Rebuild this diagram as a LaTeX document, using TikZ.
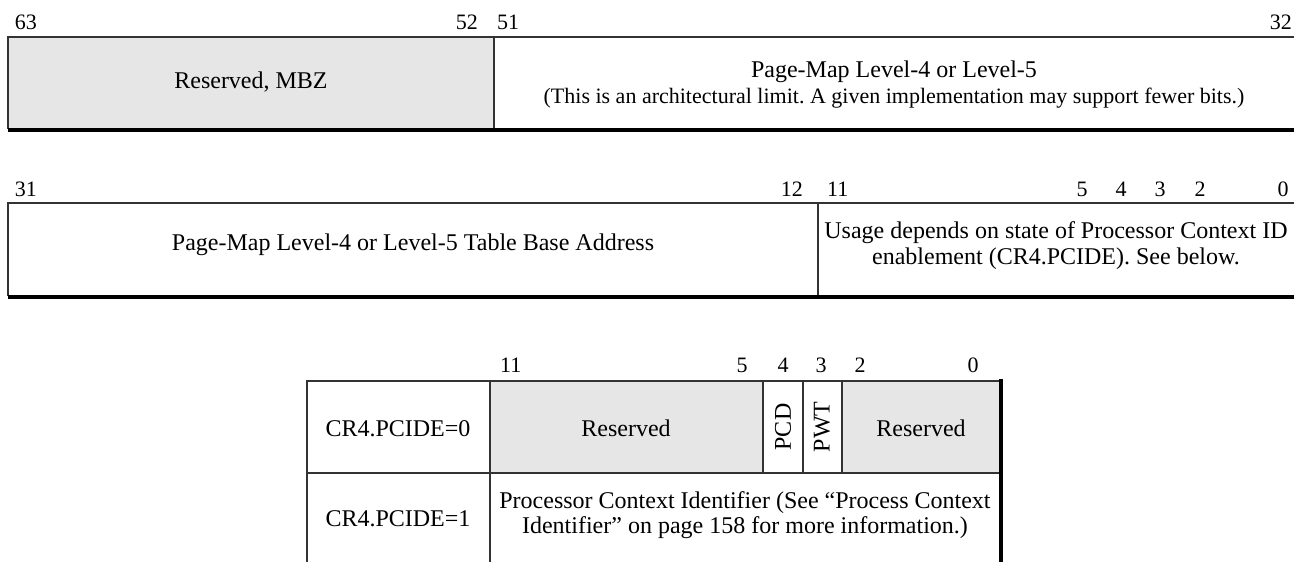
\documentclass[tikz,border=0pt]{standalone}
\usepackage{fontspec}
\setmainfont{Liberation Serif}
\definecolor{resgray}{HTML}{E6E6E6}
\definecolor{linegray}{HTML}{333333}
\begin{document}
\frenchspacing
\begin{tikzpicture}[x=1pt,y=-1pt,
  thinline/.style={line width=1.3pt, draw=linegray},
  thickbar/.style={line width=4pt, draw=black},
  resfill/.style={fill=resgray},
  txt/.style={font=\fontsize{24}{28}\selectfont, inner sep=0pt, anchor=base},
  smalltxt/.style={font=\fontsize{22}{26}\selectfont, inner sep=0pt, anchor=base},
  bitlbl/.style={font=\fontsize{22}{26}\selectfont, inner sep=0pt, anchor=base},
  vtxt/.style={font=\fontsize{24}{28}\selectfont, inner sep=0pt, rotate=90}]
\useasboundingbox (0,0) rectangle (1294,562);

% ---------- Row 1: bits 63..32 ----------
\fill[resfill] (8,37) rectangle (494,129);
\draw[thinline] (1294,37) -- (8,37) -- (8,129);
\draw[thinline] (494,37) -- (494,129);
\draw[thickbar] (8,130) -- (1294,130);
\node[bitlbl] (b63) at (26,29) {63};
\node[bitlbl, anchor=base east] (b52) at (478,29) {52};
\node[bitlbl, anchor=base west] (b51) at (497,29) {51};
\node[bitlbl, anchor=base east] (b32) at (1292,29) {32};
\node[txt] (mbz) at (251,88) {Reserved, MBZ};
\node[txt] (pml) at (894,77) {Page-Map Level-4 or Level-5};
\node[smalltxt] (pmlnote) at (894,103) {(This is an architectural limit. A given implementation may support fewer bits.)};

% ---------- Row 2: bits 31..0 ----------
\draw[thinline] (1294,203) -- (8,203) -- (8,296);
\draw[thinline] (818,203) -- (818,296);
\draw[thickbar] (8,297) -- (1294,297);
\node[bitlbl] (b31) at (26,196) {31};
\node[bitlbl, anchor=base east] (b12) at (803,196) {12};
\node[bitlbl, anchor=base west] (b11) at (827,196) {11};
\node[bitlbl] (b5) at (1082,196) {5};
\node[bitlbl] (b4) at (1121,196) {4};
\node[bitlbl] (b3) at (1160,196) {3};
\node[bitlbl] (b2) at (1200,196) {2};
\node[bitlbl] (b0) at (1283,196) {0};
\node[txt] (base) at (413,250) {Page-Map Level-4 or Level-5 Table Base Address};
\node[txt] (usage1) at (1056,238) {Usage depends on state of Processor Context ID};
\node[txt] (usage2) at (1056,264) {enablement (CR4.PCIDE). See below.};

% ---------- Table: bits 11..0 ----------
\fill[resfill] (490,381) rectangle (763,473);
\fill[resfill] (842,381) rectangle (1001,473);
\draw[thinline] (1001,381) -- (307,381) -- (307,563);
\draw[thinline] (490,381) -- (490,563);
\draw[thinline] (307,473) -- (1001,473);
\draw[thinline] (763,381) -- (763,473);
\draw[thinline] (803,381) -- (803,473);
\draw[thinline] (842,381) -- (842,473);
\draw[line width=4.5pt, draw=black] (1001,379) -- (1001,563);
\node[bitlbl, anchor=base west] (t11) at (500,372) {11};
\node[bitlbl] (t5) at (742,372) {5};
\node[bitlbl] (t4) at (783,372) {4};
\node[bitlbl] (t3) at (821,372) {3};
\node[bitlbl] (t2) at (860,372) {2};
\node[bitlbl] (t0) at (973,372) {0};
\node[txt] (pc0) at (398,436) {CR4.PCIDE=0};
\node[txt] (res1) at (626,436) {Reserved};
\node[vtxt] (pcd) at (783,427) {PCD};
\node[vtxt] (pwt) at (822,427) {PWT};
\node[txt] (res2) at (921,436) {Reserved};
\node[txt] (pc1) at (398,526) {CR4.PCIDE=1};
\node[txt] (pcid1) at (745,508) {Processor Context Identifier (See “Process Context};
\node[txt] (pcid2) at (745,533) {Identifier” on page 158 for more information.)};
\end{tikzpicture}
\end{document}
